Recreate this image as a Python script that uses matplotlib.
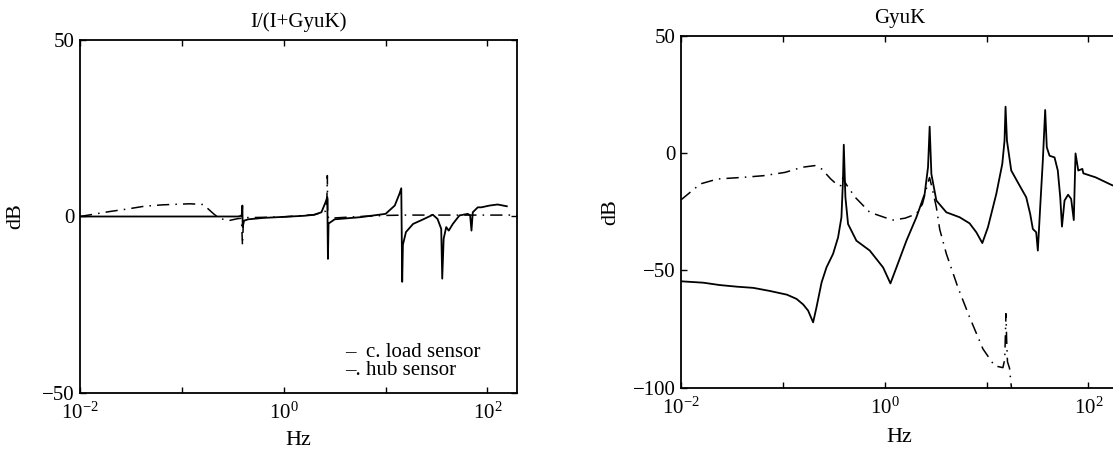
import matplotlib
matplotlib.use('Agg')
import matplotlib.pyplot as plt
import numpy as np

plt.rcParams['font.family'] = ['Liberation Serif', 'DejaVu Serif']
plt.rcParams['mathtext.fontset'] = 'custom'
plt.rcParams['mathtext.rm'] = 'Liberation Serif'
plt.rcParams['mathtext.it'] = 'Liberation Serif:italic'
plt.rcParams['font.size'] = 15

# --- data (log10 of Hz, dB) ---

# left panel: I/(I+GyuK)
left_load_logf = [-2.0, -1.0, -0.45, -0.415, -0.41, -0.406, -0.403, -0.39, -0.35,
                  -0.2, 0.0, 0.2, 0.3, 0.37, 0.41, 0.428, 0.431, 0.434, 0.44,
                  0.5, 0.75, 1.0, 1.09, 1.137, 1.154, 1.163, 1.17, 1.2, 1.27,
                  1.366, 1.464, 1.51, 1.546, 1.556, 1.57, 1.595, 1.62, 1.66,
                  1.725, 1.807, 1.83, 1.843, 1.856, 1.905, 1.94, 2.02, 2.1, 2.19]
left_load_db = [0.0, 0.0, 0.0, 0.2, 1.0, 3.1, -3.0, -1.2, -0.8,
                -0.4, -0.1, 0.2, 0.5, 1.2, 4.0, 5.5, -4.0, -12.0, -2.0,
                -0.8, -0.2, 0.75, 3.1, 6.5, 8.0, -18.5, -8.0, -4.4, -2.1,
                -0.85, 0.5, -0.7, -3.5, -17.6, -6.3, -3.0, -4.0, -2.1,
                0.3, 0.75, 0.3, -4.0, 1.2, 2.6, 2.6, 3.1, 3.4, 2.9]

left_hub_logf = [-2.0, -1.71, -1.54, -1.37, -1.19, -1.02, -0.92, -0.79, -0.69,
                 -0.63, -0.53, -0.45, -0.415, -0.405, -0.395, -0.37, -0.3, 0.0,
                 0.3, 0.41, 0.424, 0.428, 0.432, 0.44, 0.5, 0.75, 1.0, 1.2,
                 1.6, 2.0, 2.29]
left_hub_db = [0.0, 1.4, 2.1, 2.9, 3.3, 3.5, 3.6, 3.4, 0.8,
               -0.6, -1.1, -0.6, -0.5, -8.2, -0.5, -0.3, -0.3, -0.1,
               0.5, 1.5, 5.0, 11.6, 0.5, -0.5, -0.4, 0.0, 0.3, 0.4,
               0.4, 0.4, 0.4]

# right panel: GyuK
right_load_logf = [-2.0, -1.78, -1.62, -1.45, -1.29, -1.13, -0.96, -0.866, -0.80,
                   -0.752, -0.703, -0.67, -0.62, -0.572, -0.507, -0.458, -0.425,
                   -0.41, -0.402, -0.386, -0.36, -0.278, -0.147, -0.016, 0.056,
                   0.115, 0.213, 0.311, 0.392, 0.425, 0.441, 0.458, 0.507, 0.605,
                   0.735, 0.833, 0.899, 0.958, 1.013, 1.095, 1.154, 1.176, 1.186,
                   1.2, 1.242, 1.324, 1.389, 1.428, 1.454, 1.487, 1.503, 1.526,
                   1.552, 1.575, 1.591, 1.618, 1.667, 1.699, 1.723, 1.74, 1.765,
                   1.80, 1.83, 1.856, 1.873, 1.9, 1.94, 1.95, 2.07, 2.22, 2.29]
right_load_db = [-54.7, -55.3, -56.3, -57.0, -57.5, -58.8, -60.4, -62.2, -64.6,
                 -67.2, -72.2, -65.8, -55.2, -48.8, -43.0, -36.0, -27.4,
                 -11.8, 3.5, -18.9, -30.3, -37.4, -41.6, -48.8, -55.6,
                 -48.8, -37.4, -27.4, -17.5, -6.1, 11.2, -9.0, -20.3, -25.3,
                 -27.4, -30.0, -33.8, -38.4, -31.7, -17.5, -4.7, 5.2, 19.7,
                 5.2, -7.5, -13.9, -18.9, -26.0, -32.4, -33.8, -41.6, -23.2,
                 -3.3, 18.3, 2.4, -1.2, -1.9, -7.5, -18.9, -31.4, -20.3,
                 -17.8, -19.6, -28.6, -0.2, -7.5, -6.8, -8.7, -10.4, -13.5, -14.8]

right_hub_logf = [-2.0, -1.81, -1.64, -1.39, -1.19, -0.98, -0.81, -0.686, -0.62,
                  -0.53, -0.458, -0.43, -0.41, -0.39, -0.37, -0.29, -0.147, 0.0,
                  0.08, 0.2, 0.31, 0.37, 0.425, 0.44, 0.46, 0.507, 0.54, 0.605,
                  0.72, 0.833, 0.964, 1.078, 1.16, 1.178, 1.19, 1.197, 1.205,
                  1.225, 1.24, 1.26]
right_hub_db = [-20.0, -13.2, -11.1, -10.4, -9.7, -8.3, -6.1, -5.4, -6.8,
                -11.1, -13.9, -13.9, -10.4, -12.5, -13.9, -18.9, -25.3, -27.5,
                -28.6, -27.8, -26.0, -21.8, -12.5, -10.5, -14.0, -23.2, -32.6, -43.0,
                -57.5, -70.0, -83.5, -90.7, -91.5, -88.0, -68.5, -80.0, -89.0,
                -91.7, -98.5, -106.0]

titles = ['I/(I+GyuK)', 'GyuK']
ylims = [(-50, 50), (-100, 50)]
yticks = [[-50, 0, 50], [-100, -50, 0, 50]]
xtick_exp = [-2, -1, 0, 1, 2]
legend_lines = ['–  c. load sensor', '–. hub sensor']


def style_axes(ax, title, ylim, yt, ylabel_x, xlabel_y, right_ticks=True):
    ax.set_xscale('log')
    ax.set_xlim(1e-2, 10 ** 2.29)
    ax.set_ylim(*ylim)
    ax.set_yticks(yt)
    ax.set_yticklabels(['\u2212%d' % -v if v < 0 else '%d' % v for v in yt])
    ax.set_xticks([10.0 ** e for e in xtick_exp])
    ax.set_xticklabels(['$10^{%d}$' % e if e % 2 == 0 else '' for e in xtick_exp])
    ax.xaxis.set_minor_locator(matplotlib.ticker.NullLocator())
    ax.tick_params(direction='in', length=4, width=1, top=True, right=right_ticks,
                   labelsize=15)
    ax.tick_params(axis='y', pad=4)
    ax.tick_params(axis='x', pad=7)
    for s in ax.spines.values():
        s.set_linewidth(1.3)
    ax.set_title(title, fontsize=15, pad=9)
    ax.set_ylabel('dB', fontsize=16)
    ax.yaxis.set_label_coords(ylabel_x, 0.5)
    ax.set_xlabel('Hz', fontsize=16)
    ax.xaxis.label.set_va('center')
    ax.xaxis.set_label_coords(0.5, xlabel_y)


fig = plt.figure(figsize=(11.13, 4.5), dpi=100)
ax1 = fig.add_axes([80 / 1113, (450 - 393) / 450, 437 / 1113, 353 / 450])
ax2 = fig.add_axes([681 / 1113, (450 - 387.6) / 450, 437 / 1113, 352 / 450])

dashdot = (8, 4, 1, 4)

ax1.plot(10 ** np.array(left_hub_logf), left_hub_db, color='black', lw=1.1,
         dashes=dashdot)
ax1.plot(10 ** np.array(left_load_logf), left_load_db, color='black', lw=1.3)
ax2.plot(10 ** np.array(right_hub_logf), right_hub_db, color='black', lw=1.1,
         dashes=dashdot)
ax2.plot(10 ** np.array(right_load_logf), right_load_db, color='black', lw=1.3)

style_axes(ax1, titles[0], ylims[0], yticks[0], -0.125, -0.135)
style_axes(ax2, titles[1], ylims[1], yticks[1], -0.14, -0.143, right_ticks=False)

ax1.text(0.606, 0.103, legend_lines[0], transform=ax1.transAxes, fontsize=15,
         va='baseline', ha='left')
ax1.text(0.606, 0.051, legend_lines[1], transform=ax1.transAxes, fontsize=15,
         va='baseline', ha='left')

fig.savefig('out.png', dpi=100)
